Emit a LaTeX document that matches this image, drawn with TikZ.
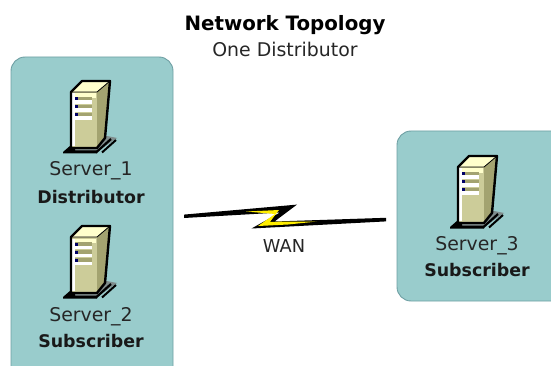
\documentclass[tikz,border=0pt]{standalone}
\usepackage{fontspec}
\setmainfont{DejaVu Sans}
\definecolor{panelfill}{HTML}{99CCCC}
\definecolor{panelline}{HTML}{6E9FA3}
\definecolor{srvfront}{HTML}{CCCC99}
\definecolor{srvtop}{HTML}{FFFFCC}
\definecolor{srvside}{HTML}{A3A370}
\definecolor{srvshadow}{HTML}{7F8C8C}
\definecolor{boltyellow}{HTML}{FFEE00}
\tikzset{
  panel/.style={draw=panelline,line width=0.9pt,fill=panelfill,rounded corners=14pt},
  lbl/.style={inner sep=0pt,font=\fontsize{18.9}{20}\selectfont,text=black!85},
  lblb/.style={inner sep=0pt,font=\fontsize{17.4}{20}\selectfont\bfseries,text=black!90},
  srv/.pic={
    % shadow and feet
    \fill[srvshadow] (4,54) -- (4,60) -- (26,60) -- (46,46) -- (36,44) -- cycle;
    \fill[black] (-8,60) -- (0,53) -- (4,53) -- (4,58.5) -- (26,58.5) -- (26,61.5) -- (-8,61.5) -- cycle;
    \draw[black,line width=2.2pt] (25,60.5) -- (40,47);
    \draw[black,line width=2pt] (31,60.5) -- (45,48);
    % body
    \fill[srvfront] (0,0) -- (26,0) -- (26,56) -- (0,56) -- cycle;
    \fill[srvtop] (0,0) -- (11,-11) -- (39,-11) -- (26,0) -- cycle;
    \fill[srvside] (26,0) -- (39,-11) -- (34,46) -- (26,56) -- cycle;
    \fill[srvtop] (1.5,1.5) -- (24.5,1.5) -- (24.5,6) -- (1.5,6) -- cycle;
    \fill[white] (1,1.5) rectangle (3.5,54);
    \fill[srvside] (3.5,5) rectangle (21,8.5);
    \fill[white] (0,8.5) rectangle (21,12);
    \fill[srvside] (3.5,13) rectangle (21,16.5);
    \fill[white] (0,16.5) rectangle (21,20);
    \fill[srvside] (3.5,21) rectangle (21,24.5);
    \fill[white] (0,24.5) rectangle (21,28);
    \fill[black!60!blue] (4,5.5) rectangle (7,8.5);
    \fill[black!60!blue] (4,13.5) rectangle (7,16.5);
    \fill[black!60!blue] (4,21.5) rectangle (7,24.5);
    \draw[black,line width=2.4pt,line join=round] (0,56) -- (0,0) -- (11,-11) -- (39,-11) -- (34,46) -- (26,56) -- cycle;
    \draw[black,line width=0.8pt] (0,0) -- (26,0) -- (39,-11);
  },
}
\begin{document}
\begin{tikzpicture}[x=1pt,y=-1pt]
\useasboundingbox (0,0) rectangle (551,366);
\begin{scope}
  \clip (0,0) rectangle (551,366);
  \draw[panel] (11,57) rectangle (173,386);
  \draw[panel] (397,131) rectangle (570,301);
\end{scope}
\pic at (71,92) {srv};
\pic at (71,237) {srv};
\pic at (458,167) {srv};
% WAN link
\fill[black] (184,214.6) -- (297,204.6) -- (274.5,221.5) -- (386,217.8) -- (386,221.4) -- (251.5,228.5) -- (280,212.5) -- (184,218) -- cycle;
\fill[boltyellow] (246,211.5) -- (279,210) -- (270,221.8) -- (317,221.5) -- (288,224.5) -- (258,226) -- (275,214) -- cycle;
\node[inner sep=0pt,font=\fontsize{19.8}{20}\selectfont\bfseries] (title) at (285,25) {Network Topology};
\node[lbl] (sub) at (285,49) {One Distributor};
\node[lbl] (s1) at (91,171) {Server\_1};
\node[lblb] (r1) at (91,197) {Distributor};
\node[lbl] (s2) at (91,317) {Server\_2};
\node[lblb] (r2) at (91,341) {Subscriber};
\node[lbl] (s3) at (477,246) {Server\_3};
\node[lblb] (r3) at (477,270) {Subscriber};
\node[inner sep=0pt,font=\fontsize{17.8}{18}\selectfont,text=black!85] (wan) at (284,246) {WAN};
\end{tikzpicture}
\end{document}
